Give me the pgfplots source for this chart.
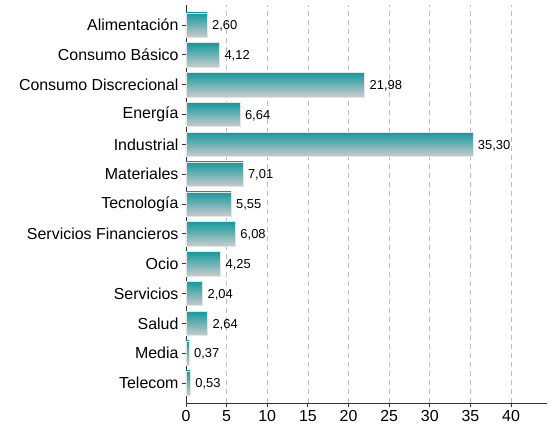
\documentclass[border=0pt]{standalone}
\usepackage{pgfplots}
\pgfplotsset{compat=1.18}
\usepackage{fontspec}
\setmainfont{Liberation Sans}
\definecolor{barTop}{HTML}{12999D}
\definecolor{barBot}{HTML}{CBCBCB}
\definecolor{axcol}{HTML}{333333}
\definecolor{gridcol}{HTML}{BDBDBD}
\tikzset{gbar/.style={xbar, draw=white!90!black, line width=0.5pt, top color=barTop, bottom color=barBot}}
\begin{document}
\begin{tikzpicture}
\begin{axis}[
  scale only axis, width=361bp, height=398bp,
  xmin=0, xmax=44.43, ymin=-0.67, ymax=12.67,
  clip=false,
  xtick={0,5,...,40},
  ytick={0,...,12},
  yticklabels={Telecom,Media,Salud,Servicios,Ocio,Servicios Financieros,Tecnología,Materiales,Industrial,Energía,Consumo Discrecional,Consumo Básico,Alimentación},
  axis x line*=bottom, axis y line*=left,
  axis line style={axcol, line width=0.8pt, -},
  tick style={axcol, line width=0.8pt},
  tick align=outside, major tick length=4bp,
  xmajorgrids, grid style={gridcol, dash pattern=on 5bp off 4bp, line width=0.7pt},
  ticklabel style={font=\fontsize{16}{18}\selectfont, text=black},
  /pgf/number format/assume math mode=true,
  xbar, bar width=0.82, bar shift=0pt,
  nodes near coords,
  nodes near coords style={font=\fontsize{13}{15}\selectfont, text=black, anchor=west, xshift=1.5bp, yshift=-1bp,
    /pgf/number format/.cd, fixed, fixed zerofill, precision=2, use comma, assume math mode=true},
]
\addplot[gbar] coordinates {(0.53,0)};
\addplot[gbar] coordinates {(0.37,1)};
\addplot[gbar] coordinates {(2.64,2)};
\addplot[gbar] coordinates {(2.04,3)};
\addplot[gbar] coordinates {(4.25,4)};
\addplot[gbar] coordinates {(6.08,5)};
\addplot[gbar] coordinates {(5.55,6)};
\addplot[gbar] coordinates {(7.01,7)};
\addplot[gbar] coordinates {(35.30,8)};
\addplot[gbar] coordinates {(6.64,9)};
\addplot[gbar] coordinates {(21.98,10)};
\addplot[gbar] coordinates {(4.12,11)};
\addplot[gbar] coordinates {(2.60,12)};
\path (rel axis cs:0,0) ++(-186bp,-27bp) (rel axis cs:1,1) ++(11bp,5bp);
\end{axis}
\end{tikzpicture}
\end{document}
